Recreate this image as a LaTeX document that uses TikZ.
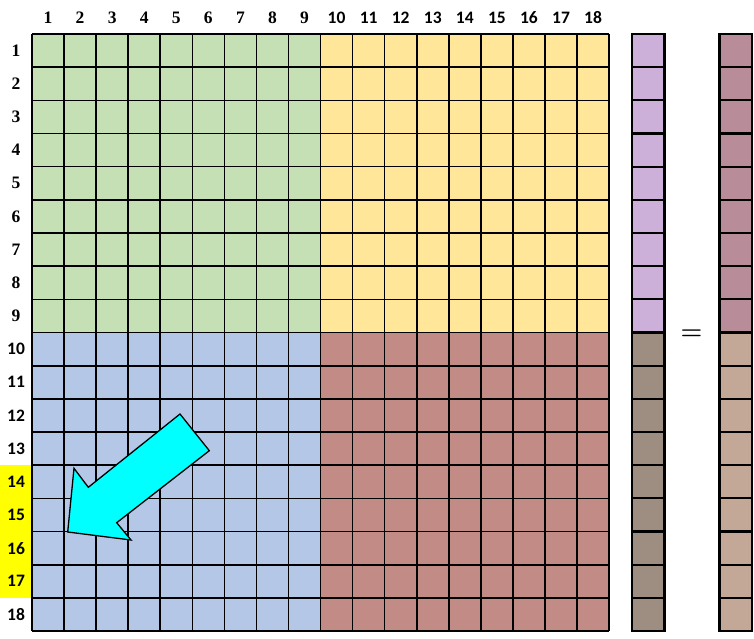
\documentclass[tikz,border=0pt]{standalone}
\usepackage{fontspec}
\setmainfont{Carlito}
\newfontfamily\serifnum{Liberation Serif}
\usetikzlibrary{positioning}

\definecolor{blockgreen}{HTML}{C5E0B4}
\definecolor{blockyellow}{HTML}{FFE699}
\definecolor{blockblue}{HTML}{B4C7E7}
\definecolor{blockred}{HTML}{C28B85}
\definecolor{vecpurple}{HTML}{CDB0D9}
\definecolor{vectaupe}{HTML}{9E8E82}
\definecolor{resmauve}{HTML}{B88C98}
\definecolor{restan}{HTML}{C4A897}
\definecolor{markyellow}{HTML}{FFFF00}
\definecolor{arrowcyan}{HTML}{00FFFF}

\tikzset{
  gridline/.style={black, line width=1.6pt},
  vecline/.style={black, line width=2.2pt},
  numlabel/.style={font=\bfseries\fontsize{17.5}{20}\selectfont, inner sep=0pt}
}

\begin{document}
\begin{tikzpicture}[x=1pt, y=-1pt]
    \useasboundingbox (0,0) rectangle (754,639);
    \def\W{32.06}
    \def\H{33.17}
    \def\X{32}
    \def\Y{34}

    % Highlighted rows
    \fill[markyellow] (0,{\Y+13*\H}) rectangle (\X,{\Y+17*\H});

    % Blocks of the matrix
    \fill[blockgreen] (\X,\Y) rectangle ({\X+9*\W},{\Y+9*\H});
    \fill[blockyellow] ({\X+9*\W},\Y) rectangle ({\X+18*\W},{\Y+9*\H});
    \fill[blockblue] (\X,{\Y+9*\H}) rectangle ({\X+9*\W},{\Y+18*\H});
    \fill[blockred] ({\X+9*\W},{\Y+9*\H}) rectangle ({\X+18*\W},{\Y+18*\H});

    % Grid
    \foreach \k in {0,...,18} {
        \draw[gridline] ({\X+\k*\W},\Y) -- ({\X+\k*\W},{\Y+18*\H});
        \draw[gridline] (\X,{\Y+\k*\H}) -- ({\X+18*\W},{\Y+\k*\H});
    }

    % Vectors
    \def\VA{632}
    \def\VB{719.5}
    \fill[vecpurple] (\VA,\Y) rectangle ({\VA+32.5},{\Y+9*\H});
    \fill[vectaupe] (\VA,{\Y+9*\H}) rectangle ({\VA+32.5},{\Y+18*\H});
    \fill[resmauve] (\VB,\Y) rectangle ({\VB+32.5},{\Y+9*\H});
    \fill[restan] (\VB,{\Y+9*\H}) rectangle ({\VB+32.5},{\Y+18*\H});
    \foreach \k in {0,...,18} {
        \draw[vecline] (\VA,{\Y+\k*\H}) -- ({\VA+32.5},{\Y+\k*\H});
        \draw[vecline] (\VB,{\Y+\k*\H}) -- ({\VB+32.5},{\Y+\k*\H});
    }
    \draw[vecline] (\VA,\Y) rectangle ({\VA+32.5},{\Y+18*\H});
    \draw[vecline] (\VB,\Y) rectangle ({\VB+32.5},{\Y+18*\H});

    % Equals sign
    \node[inner sep=0pt] (eq) at (691.5,334.5) {\mbox{\fontsize{32}{32}\selectfont\boldmath$=$}};

    % Labels
    \foreach \k in {1,...,18} {
        \node[numlabel] (col\k) at ({\X+(\k-0.5)*\W},18) {\ifnum\k<10 \serifnum\fi\k};
        \node[numlabel] (row\k) at (16,{\Y+(\k-0.5)*\H}) {\ifnum\k<10 \serifnum\fi\k};
    }

    % Arrow
    \coordinate (tip) at (67.7,532);
    \coordinate (headup) at (74,468.3);
    \coordinate (notchup) at (88.3,487.3);
    \coordinate (tailup) at (180,414);
    \coordinate (taildown) at (209.3,450.7);
    \coordinate (notchdown) at (116.7,522.7);
    \coordinate (headdown) at (131,540);
    \draw[fill=arrowcyan, line width=1.3pt, line join=miter]
        (tip) -- (headup) -- (notchup) -- (tailup) -- (taildown)
        -- (notchdown) -- (headdown) -- cycle;
\end{tikzpicture}
\end{document}
